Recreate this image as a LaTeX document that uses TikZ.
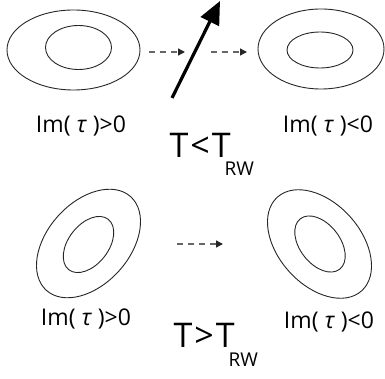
\documentclass[tikz,border=0pt]{standalone}
\usepackage{fontspec}
\setmainfont{Open Sans}
\usetikzlibrary{arrows.meta, positioning}

\begin{document}
\begin{tikzpicture}[x=1pt, y=-1pt,
    torus/.style={draw=black!85, line width=0.9pt},
    flow/.style={draw=black!60, line width=1.3pt, dash pattern=on 6pt off 5pt,
        -{Triangle[length=7pt, width=7pt, color=black!85]}},
    lab/.style={font=\fontsize{23}{23}\selectfont, anchor=base},
    temp/.style={font=\fontsize{34}{34}\selectfont, anchor=base west}
]
    \useasboundingbox (0,0) rectangle (385,379);

    % below T_RW: the flow is blocked
    \begin{scope}
        \draw[torus] (73.5,50) ellipse [x radius=66.5, y radius=40];
        \draw[torus] (78.5,47.5) ellipse [x radius=33, y radius=22];
        \draw[torus] (321,49) ellipse [x radius=63, y radius=40];
        \draw[torus] (320,50) ellipse [x radius=33, y radius=18];
        \coordinate (a1) at (149,52);
        \coordinate (a2) at (185,52);
        \coordinate (b1) at (211,52);
        \coordinate (b2) at (247,52);
        \draw[flow] (a1) -- (a2);
        \draw[flow] (b1) -- (b2);
        \coordinate (tail) at (172,98);
        \coordinate (tip) at (220,1);
        \draw[line width=3.2pt, -{Triangle[length=23pt, width=20pt]}] (tail) -- (tip);
        \node[lab] (posA) at (81,133) {Im( \textit{τ} )>0};
        \node[lab] (negA) at (328,133) {Im( \textit{τ} )<0};
        \node[temp] (lowT) at (166,158) {T\kern2pt<\kern2pt T\kern-6pt\raisebox{-18pt}{\fontsize{19}{19}\selectfont RW}};
    \end{scope}

    % above T_RW
    \begin{scope}
        \draw[torus, rotate around={48:(88.5,243.5)}] (88.5,243.5) ellipse [x radius=63, y radius=41];
        \draw[torus, rotate around={52:(88.5,244.5)}] (88.5,244.5) ellipse [x radius=32, y radius=20];
        \draw[torus, rotate around={-48:(319.5,244)}] (319.5,244) ellipse [x radius=63, y radius=41];
        \draw[torus, rotate around={-52:(320,244)}] (320,244) ellipse [x radius=32, y radius=20];
        \coordinate (c1) at (177,244);
        \coordinate (c2) at (223,244);
        \draw[flow] (c1) -- (c2);
        \node[lab] (posB) at (86,325) {Im( \textit{τ} )>0};
        \node[lab] (negB) at (329,328) {Im( \textit{τ} )<0};
        \node[temp] (highT) at (170,347) {T\kern2pt>\kern2pt T\kern-6pt\raisebox{-19pt}{\fontsize{19}{19}\selectfont RW}};
    \end{scope}
\end{tikzpicture}
\end{document}
